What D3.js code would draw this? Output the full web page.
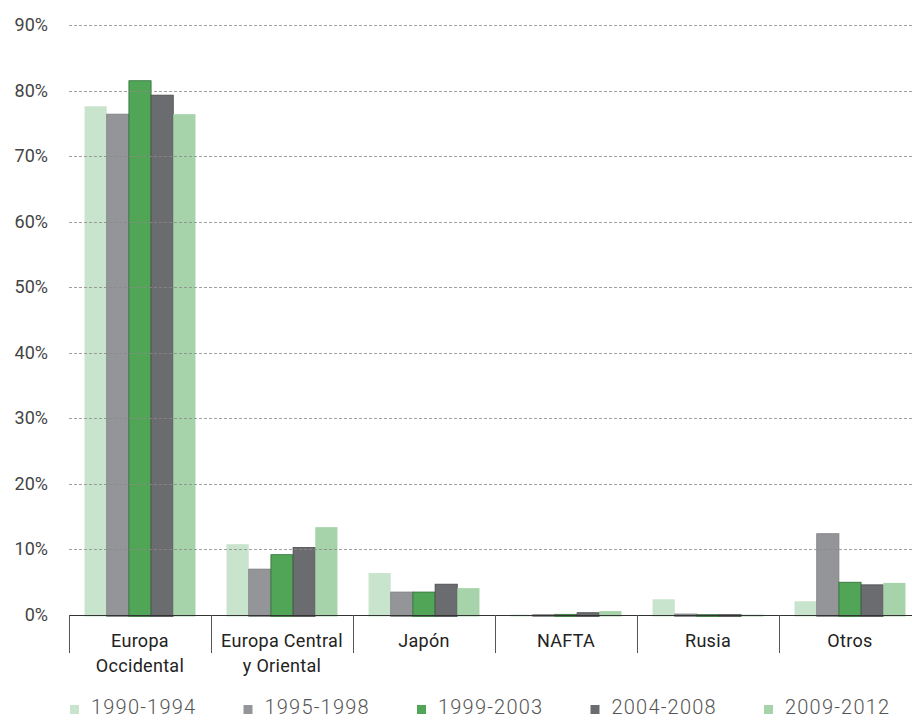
<!DOCTYPE html>
<html>
<head>
<meta charset="utf-8">
<script src="https://cdn.jsdelivr.net/npm/d3@7/dist/d3.min.js"></script>
<style>
  html, body { margin: 0; padding: 0; background: #fff; }
  svg { display: block; font-family: Roboto, "DejaVu Sans", sans-serif; }
</style>
</head>
<body>
<svg id="chart" width="912" height="720"></svg>
<script>
// Regions of destination (share of total, %)
const categories = [["Europa", "Occidental"], ["Europa Central", "y Oriental"], ["Japón"], ["NAFTA"], ["Rusia"], ["Otros"]];
const periods = ["1990-1994", "1995-1998", "1999-2003", "2004-2008", "2009-2012"];
const colors = ["#c9e4cc", "#939598", "#50a557", "#6b6c70", "#a7d3aa"];
const strokes = [null, "#7c7e81", "#2f6e35", "#4a4b4e", null];

const v1990 = [77.6, 10.8, 6.4, 0.05, 2.4, 2.1];
const v1995 = [76.4, 7.0, 3.5, 0.05, 0.15, 12.4];
const v1999 = [81.5, 9.2, 3.5, 0.1, 0.05, 5.0];
const v2004 = [79.3, 10.3, 4.7, 0.35, 0.05, 4.6];
const v2009 = [76.4, 13.4, 4.1, 0.6, 0.05, 4.9];
const series = [v1990, v1995, v1999, v2004, v2009];

const yTicks = [0, 10, 20, 30, 40, 50, 60, 70, 80, 90];

const svg = d3.select("#chart");
const W = 912;
const left = 69, catW = 142;
const y0 = 615, y90 = 25;

const x = d3.scaleBand()
  .domain(d3.range(categories.length))
  .range([left, left + catW * categories.length])
  .paddingInner(0).paddingOuter(0);

const xs = d3.scaleBand()
  .domain(d3.range(periods.length))
  .range([0, x.bandwidth()])
  .paddingOuter(0.7).paddingInner(0);

const y = d3.scaleLinear().domain([0, 90]).range([y0, y90]);

// Y labels
svg.append("g")
  .selectAll("text")
  .data(yTicks)
  .join("text")
  .attr("x", 48)
  .attr("y", d => y(d) + 6)
  .attr("text-anchor", "end")
  .attr("font-size", 18)
  .attr("fill", "#444")
  .text(d => d + "%");

// Bars
const groups = svg.append("g")
  .selectAll("g")
  .data(categories.map((c, i) => i))
  .join("g")
  .attr("transform", i => `translate(${x(i)},0)`);

groups.selectAll("rect")
  .data(i => series.map((s, k) => ({ k, v: s[i] })))
  .join("rect")
  .attr("x", d => xs(d.k))
  .attr("width", xs.bandwidth())
  .attr("y", d => y(d.v))
  .attr("height", d => y0 - y(d.v) + 1.5)
  .attr("fill", d => colors[d.k])
  .attr("stroke", d => strokes[d.k] || "none")
  .attr("stroke-width", 0.8);

// Dashed gridlines on top of the bars
svg.append("g")
  .selectAll("line")
  .data(yTicks.filter(d => d > 0))
  .join("line")
  .attr("x1", left).attr("x2", W)
  .attr("y1", d => Math.round(y(d)) + 0.5)
  .attr("y2", d => Math.round(y(d)) + 0.5)
  .attr("stroke", "#8a8a8a")
  .attr("stroke-opacity", 0.8)
  .attr("stroke-width", 1)
  .attr("stroke-dasharray", "3,2");

// Baseline
svg.append("line")
  .attr("x1", left).attr("x2", W)
  .attr("y1", y0 + 0.5).attr("y2", y0 + 0.5)
  .attr("stroke", "#333").attr("stroke-width", 1.2);

// Category dividers
svg.append("g")
  .selectAll("line")
  .data(d3.range(categories.length + 1))
  .join("line")
  .attr("x1", i => left + i * catW + 0.5)
  .attr("x2", i => left + i * catW + 0.5)
  .attr("y1", y0)
  .attr("y2", 653)
  .attr("stroke", "#555")
  .attr("stroke-width", 1);

// Category labels
groups.each(function(i) {
  const t = d3.select(this).append("text")
    .attr("x", x.bandwidth() / 2)
    .attr("y", 647)
    .attr("text-anchor", "middle")
    .attr("font-size", 18)
    .attr("letter-spacing", 0.3)
    .attr("fill", "#222");
  categories[i].forEach((line, j) => {
    t.append("tspan")
      .attr("x", x.bandwidth() / 2)
      .attr("dy", j === 0 ? 0 : 25)
      .text(line);
  });
});

// Legend
const legend = svg.append("g")
  .selectAll("g")
  .data(periods.map((p, k) => k))
  .join("g")
  .attr("transform", k => `translate(${70 + k * 173.5},705)`);

legend.append("rect")
  .attr("width", 9).attr("height", 9)
  .attr("fill", k => colors[k]);

legend.append("text")
  .attr("x", 21)
  .attr("y", 9)
  .attr("font-size", 20)
  .attr("font-weight", 300)
  .attr("letter-spacing", 1.2)
  .attr("fill", "#555")
  .text(k => periods[k]);
</script>
</body>
</html>
